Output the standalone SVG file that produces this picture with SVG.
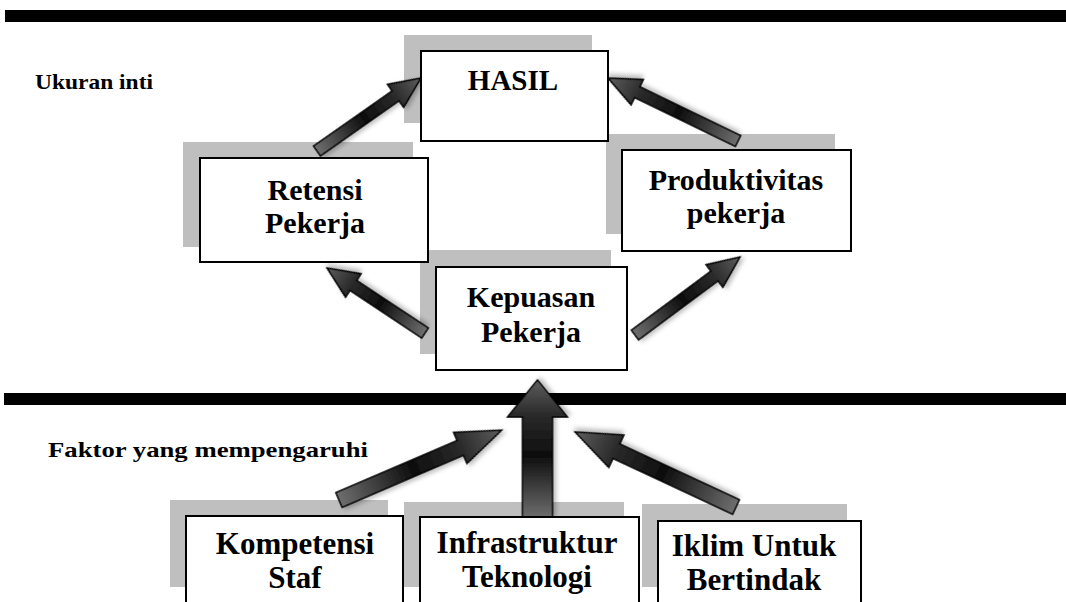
<svg xmlns="http://www.w3.org/2000/svg" width="1066" height="602" viewBox="0 0 1066 602">
<style>
.bar{fill:#000}
.shadow{fill:#bfbfbf}
.box{fill:#fff;stroke:#000;stroke-width:2}
.t{font-family:"Liberation Serif","Times New Roman",serif;font-weight:bold;fill:#000;text-anchor:middle;font-size:30px}
.b{font-size:31px}
.lbl{font-family:"Liberation Serif","Times New Roman",serif;font-weight:bold;fill:#000;font-size:21px}
.arr{fill:url(#ag);stroke:#000;stroke-width:1.5;stroke-linejoin:miter;filter:url(#sh)}
</style>
<defs>
<linearGradient id="ag" x1="0" y1="0" x2="1" y2="0">
<stop offset="0" stop-color="#6e6e6e"/>
<stop offset="0.45" stop-color="#0e0e0e"/>
<stop offset="0.75" stop-color="#2a2a2a"/>
<stop offset="1" stop-color="#5e5e5e"/>
</linearGradient>
<filter id="sh" x="-20%" y="-40%" width="140%" height="180%">
<feDropShadow dx="2" dy="3" stdDeviation="2" flood-color="#000" flood-opacity="0.25"/>
</filter>
</defs>

<rect class="bar" x="5" y="10" width="1061" height="12"/>
<rect class="bar" x="4" y="393" width="1062" height="12"/>

<text class="lbl" x="35" y="89" textLength="118" lengthAdjust="spacingAndGlyphs">Ukuran inti</text>
<text class="lbl" x="48" y="457" textLength="320" lengthAdjust="spacingAndGlyphs">Faktor yang mempengaruhi</text>

<g id="shadows">
<rect class="shadow" x="404" y="35" width="188" height="88"/>
<rect class="shadow" x="183" y="142" width="230" height="105"/>
<rect class="shadow" x="606" y="134" width="229" height="100"/>
<rect class="shadow" x="420" y="250" width="191" height="104"/>
<rect class="shadow" x="170" y="500" width="218" height="87"/>
<rect class="shadow" x="404" y="502" width="220" height="85"/>
<rect class="shadow" x="642" y="504" width="205" height="83"/>
</g>

<g id="connectors">
<path class="arr" transform="translate(317,151) rotate(-35.07)" d="M0,-6 L96,-6 L96,-14 L127,0 L96,14 L96,6 L0,6 Z"/>
<path class="arr" transform="translate(738,141) rotate(-154.15)" d="M0,-6 L112,-6 L112,-14 L144.5,0 L112,14 L112,6 L0,6 Z"/>
<path class="arr" transform="translate(425,333) rotate(-146.45)" d="M0,-6 L86,-6 L86,-14 L117.6,0 L86,14 L86,6 L0,6 Z"/>
<path class="arr" transform="translate(635,335) rotate(-36.6)" d="M0,-6 L99,-6 L99,-14 L130.8,0 L99,14 L99,6 L0,6 Z"/>
<path class="arr" transform="translate(339,500) rotate(-23.24)" d="M0,-8 L132,-8 L132,-17 L177,0 L132,17 L132,8 L0,8 Z"/>
<path class="arr" transform="translate(736,507) rotate(-155)" d="M0,-8 L132,-8 L132,-18 L177.6,0 L132,18 L132,8 L0,8 Z"/>
<path class="arr" transform="translate(537.5,518) rotate(-90)" d="M0,-15 L101,-15 L101,-30 L138,0 L101,30 L101,15 L0,15 Z"/>
</g>

<g id="hasil">
<rect class="box" x="421" y="51" width="187" height="90"/>
<text class="t" x="513" y="90" style="font-size:29px">HASIL</text>
</g>
<g id="retensi">
<rect class="box" x="200" y="158" width="228" height="104"/>
<text class="t" x="315" y="200">Retensi</text>
<text class="t" x="315" y="233">Pekerja</text>
</g>
<g id="produktivitas">
<rect class="box" x="622" y="150" width="229" height="101"/>
<text class="t" x="736" y="190">Produktivitas</text>
<text class="t" x="736" y="223">pekerja</text>
</g>
<g id="kepuasan">
<rect class="box" x="436" y="267" width="191" height="103"/>
<text class="t" x="531" y="307">Kepuasan</text>
<text class="t" x="531" y="342">Pekerja</text>
</g>
<g id="kompetensi">
<rect class="box" x="186" y="516" width="217" height="100"/>
<text class="t b" x="295" y="554">Kompetensi</text>
<text class="t b" x="295" y="588">Staf</text>
</g>
<g id="infrastruktur">
<rect class="box" x="420" y="517" width="219" height="100"/>
<text class="t b" x="527" y="553">Infrastruktur</text>
<text class="t b" x="527" y="587">Teknologi</text>
</g>
<g id="iklim">
<rect class="box" x="658" y="521" width="203" height="100"/>
<text class="t b" x="754" y="556">Iklim Untuk</text>
<text class="t b" x="754" y="590">Bertindak</text>
</g>
</svg>
